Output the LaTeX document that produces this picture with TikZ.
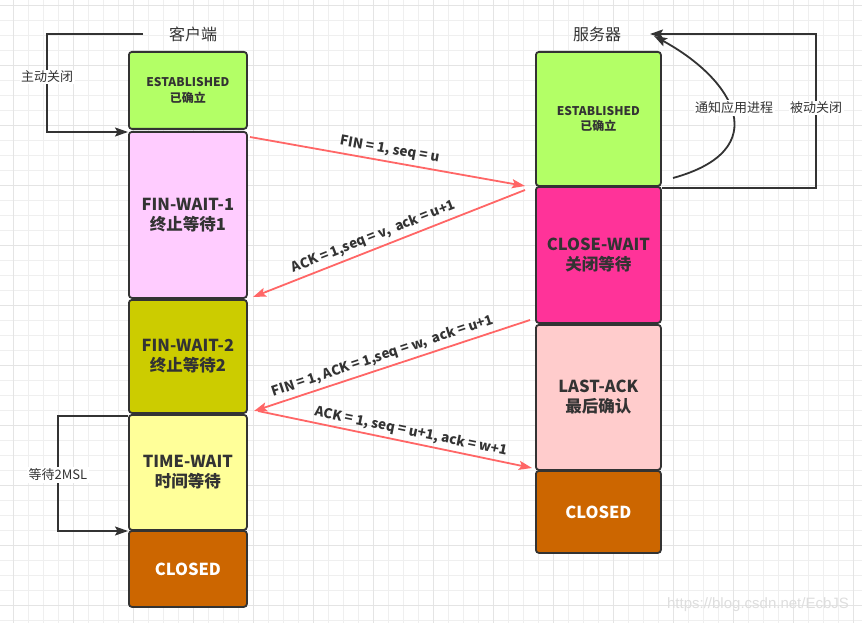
\documentclass[tikz,border=0pt]{standalone}
\usepackage{fontspec}
\setmainfont{Noto Sans CJK SC}
\newfontfamily\wmfont{Liberation Sans}
\usetikzlibrary{arrows.meta,calc}

\definecolor{edge}{HTML}{333333}
\definecolor{txt}{HTML}{333333}
\definecolor{msg}{HTML}{FF6666}
\definecolor{cEst}{HTML}{B3FF66}
\definecolor{cFwa}{HTML}{FFCCFF}
\definecolor{cFwb}{HTML}{CCCC00}
\definecolor{cTw}{HTML}{FFFF99}
\definecolor{cClosed}{HTML}{CC6600}
\definecolor{cCw}{HTML}{FF3399}
\definecolor{cLa}{HTML}{FFCCCC}
\definecolor{gridminor}{HTML}{EFEFEF}
\definecolor{gridmajor}{HTML}{E4E4E4}

\tikzset{
  state/.style={draw=edge, line width=1.8pt, rounded corners=3pt, inner sep=0pt,
    anchor=north west, align=center, text=txt,
    font=\fontsize{16.5}{20}\selectfont\bfseries},
  smallstate/.style={state, font=\fontsize{12}{15.5}\selectfont\bfseries},
  title/.style={text=txt, font=\fontsize{16}{18}\selectfont},
  sidelabel/.style={fill=white, text=txt, inner sep=1.5pt,
    font=\fontsize{13}{15}\selectfont},
  msgline/.style={draw=msg, line width=1.8pt,
    -{Stealth[length=13pt,width=9pt,inset=2.5pt]}},
  msglabel/.style={text=txt, sloped, inner sep=1pt,
    font=\fontsize{13.5}{15}\selectfont\bfseries},
  loopline/.style={draw=edge, line width=1.8pt,
    -{Stealth[length=13pt,width=9pt,inset=2.5pt]}},
}

\begin{document}
\begin{tikzpicture}[x=1pt,y=-1pt]
\useasboundingbox (0,0) rectangle (862,623);
\fill[white] (0,0) rectangle (862,623);

% background grid
\foreach \gx in {13,28,...,862} \draw[gridminor, line width=0.8pt] (\gx,0) -- (\gx,623);
\foreach \gy in {5,20,...,623} \draw[gridminor, line width=0.8pt] (0,\gy) -- (862,\gy);
\foreach \gx in {13,73,...,862} \draw[gridmajor, line width=0.8pt] (\gx,0) -- (\gx,623);
\foreach \gy in {5,65,...,623} \draw[gridmajor, line width=0.8pt] (0,\gy) -- (862,\gy);

% column titles
\node[title] (ctitle) at (193,34) {客户端};
\node[title] (stitle) at (597,34) {服务器};

% client states
\node[smallstate, fill=cEst, minimum width=118pt, minimum height=77pt] (cest) at (128,51) {ESTABLISHED\\已确立};
\node[state, fill=cFwa, minimum width=118pt, minimum height=166pt] (fw1) at (128,131) {FIN-WAIT-1\\终止等待1};
\node[state, fill=cFwb, minimum width=118pt, minimum height=113pt] (fw2) at (128,299) {FIN-WAIT-2\\终止等待2};
\node[state, fill=cTw, minimum width=118pt, minimum height=115pt] (tw) at (128,414) {TIME-WAIT\\时间等待};
\node[state, fill=cClosed, text=white, minimum width=118pt, minimum height=76pt] (cclosed) at (128,530) {CLOSED};

% server states
\node[smallstate, fill=cEst, minimum width=125pt, minimum height=134pt] (sest) at (535,51) {ESTABLISHED\\已确立};
\node[state, fill=cCw, minimum width=125pt, minimum height=136pt] (cw) at (535,186) {CLOSE-WAIT\\关闭等待};
\node[state, fill=cLa, minimum width=125pt, minimum height=145pt] (la) at (535,324) {LAST-ACK\\最后确认};
\node[state, fill=cClosed, text=white, minimum width=125pt, minimum height=82pt] (sclosed) at (535,470) {CLOSED};

% end points of the message arrows
\coordinate (m1a) at (250,137);
\coordinate (m1b) at (525,186);
\coordinate (m2a) at (525,190);
\coordinate (m2b) at (253,297);
\coordinate (m3a) at (530,320);
\coordinate (m3b) at (254,411);
\coordinate (m4a) at (258,411);
\coordinate (m4b) at (532,468);

% messages
\draw[msgline] (m1a) -- node[msglabel, above=3pt, pos=0.5] {FIN = 1, seq = u} (m1b);
\draw[msgline] (m2a) -- node[msglabel, above=3pt, pos=0.54] {ACK = 1,seq = v,\ \ ack = u+1} (m2b);
\draw[msgline] (m3a) -- node[msglabel, above=3pt, pos=0.52] {FIN = 1, ACK = 1,seq = w,\ \ ack = u+1} (m3b);
\draw[msgline] (m4a) -- node[msglabel, above=2pt, pos=0.55] {ACK = 1, seq = u+1, ack = w+1} (m4b);

% active close loop (client)
\coordinate (ac0) at (143,34);
\coordinate (ac1) at (47,34);
\coordinate (ac2) at (47,132);
\draw[loopline] (ac0) -- (ac1) -- (ac2) -- (ac2 -| fw1.west);
\node[sidelabel] (aclabel) at (47,77) {主动关闭};

% wait 2MSL loop (client)
\coordinate (tw1) at (58,416);
\coordinate (tw2) at (58,531);
\draw[loopline] (tw.north west |- tw1) -- (tw1) -- (tw2) -- (tw2 -| cclosed.west);
\node[sidelabel] (twlabel) at (58,475) {等待2MSL};

% passive close loop (server)
\coordinate (pc0) at (816,188);
\coordinate (pc1) at (816,34);
\coordinate (pctip) at (650,34);
\draw[loopline] (pc0 -| sest.east) -- (pc0) -- (pc1) -- (pctip);
\node[sidelabel] (pclabel) at (816,108) {被动关闭};

% notify application
\coordinate (na0) at (673,178);
\coordinate (natip) at (654,36);
\draw[loopline] (na0) .. controls (775,150) and (735,80) .. (natip);
\node[sidelabel] (nalabel) at (734,108) {通知应用进程};

% footer
\node[text=black!13, font=\wmfont\fontsize{15}{17}\selectfont] (wm) at (758,605) {https://blog.csdn.net/EcbJS};
\end{tikzpicture}
\end{document}
